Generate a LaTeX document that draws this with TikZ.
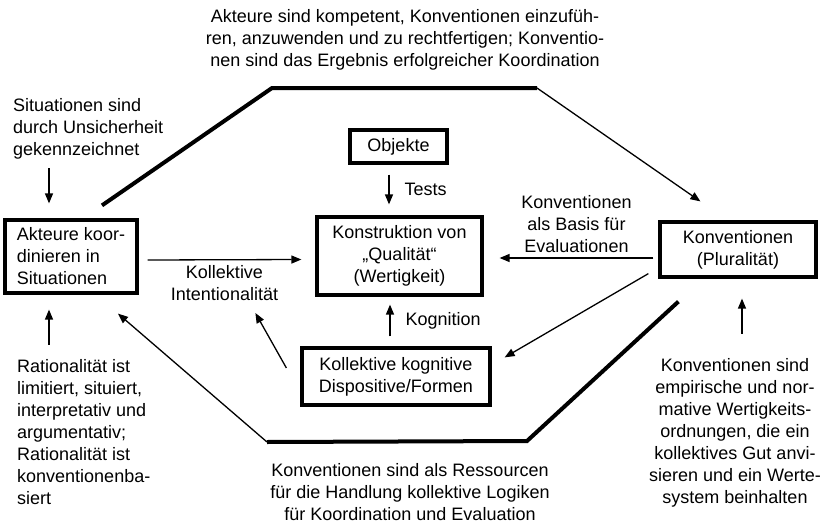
\documentclass[tikz,border=0pt]{standalone}
\usepackage{fontspec}
\setmainfont{Liberation Sans}
\usetikzlibrary{shapes,arrows.meta,positioning,calc}

\begin{document}
\begin{tikzpicture}[
    x=1pt, y=-1pt,
    every node/.style={font=\fontsize{18}{22}\selectfont},
    block/.style={rectangle, draw, line width=3.2pt, inner sep=0pt},
    note/.style={inner sep=0pt},
    arrow/.style={line width=1.3pt, -{Triangle[length=10pt,width=8pt]}},
    bigline/.style={line width=4pt, line join=miter}
]
\useasboundingbox (0,0) rectangle (820,525);

\node[block, minimum width=132pt, minimum height=73pt, align=left] (akteure) at (71,256.5) {Akteure koor-\\dinieren in\\Situationen};
\node[block, minimum width=97pt, minimum height=33pt] (objekte) at (398.5,146.5) {Objekte};
\node[block, minimum width=165pt, minimum height=78pt, align=center] (konstr) at (399.5,256) {Konstruktion von\\„Qualität“\\(Wertigkeit)};
\node[block, minimum width=188pt, minimum height=57pt, align=center] (dispo) at (396,376.5) {Kollektive kognitive\\Dispositive/Formen};
\node[block, minimum width=156pt, minimum height=55pt, align=center] (konv) at (738,249.5) {Konventionen\\(Pluralität)};

\node[note, align=center] (topnote) at (405,40) {Akteure sind kompetent, Konventionen einzufüh-\\ren, anzuwenden und zu rechtfertigen; Konventio-\\nen sind das Ergebnis erfolgreicher Koordination};
\node[note, align=left, anchor=west] (sitnote) at (13,129) {Situationen sind\\durch Unsicherheit\\gekennzeichnet};
\node[note, align=left, anchor=west] (ratnote) at (17,432.5) {Rationalität ist\\limitiert, situiert,\\interpretativ und\\argumentativ;\\Rationalität ist\\konventionenba-\\siert};
\node[note, align=center] (botnote) at (410,492) {Konventionen sind als Ressourcen\\für die Handlung kollektive Logiken\\für Koordination und Evaluation};
\node[note, align=center] (rightnote) at (735,432.5) {Konventionen sind\\empirische und nor-\\mative Wertigkeits-\\ordnungen, die ein\\kollektives Gut anvi-\\sieren und ein Werte-\\system beinhalten};

\coordinate (topstart) at ($(akteure.north)+(31,-13)$);
\coordinate (topleft) at (272,88);
\coordinate (topright) at (537,88);
\coordinate (topend) at ($(konv.north west)+(42,-19)$);
\coordinate (botstart) at ($(konv.south west)+(20,23)$);
\coordinate (botright) at (527,441);
\coordinate (botleft) at (267,442);
\coordinate (botend) at ($(akteure.south)+(47,19)$);

\draw[bigline] (topstart) -- (topleft) -- (topright);
\draw[arrow] (topright) -- (topend);
\draw[bigline] (botstart) -- (botright) -- (botleft);
\draw[arrow] (botleft) -- (botend);

\draw[arrow] ($(akteure.north)+(-22,-50)$) -- ($(akteure.north)+(-22,-15)$);
\draw[arrow] ($(akteure.south)+(-22,50)$) -- ($(akteure.south)+(-22,15)$);
\draw[arrow] ($(akteure.east)+(9,3.5)$) -- node[note, below=5pt, align=center] (intlabel) {Kollektive\\Intentionalität} ($(konstr.west)+(-14,3.5)$);
\draw[arrow] ($(objekte.south)+(-9.5,10)$) -- node[note, right=15pt] (tests) {Tests} ($(konstr.north)+(-10.5,-11)$);
\draw[arrow] ($(dispo.north)+(-6,-10)$) -- node[note, right=15pt] (kogn) {Kognition} ($(konstr.south)+(-9.5,8)$);
\draw[arrow] ($(dispo.west)+(-14,-8.5)$) -- ($(dispo.west)+(-45,-63.5)$);
\draw[arrow] ($(konv.west)+(-5,8.5)$) -- node[note, above=5pt, align=center] (basis) {Konventionen\\als Basis für\\Evaluationen} ($(konstr.east)+(16,2)$);
\draw[arrow] ($(konv.south west)+(-10,-5)$) -- ($(dispo.north east)+(13,11)$);
\draw[arrow] ($(konv.south)+(4,55)$) -- ($(konv.south)+(4,20)$);

\end{tikzpicture}
\end{document}
